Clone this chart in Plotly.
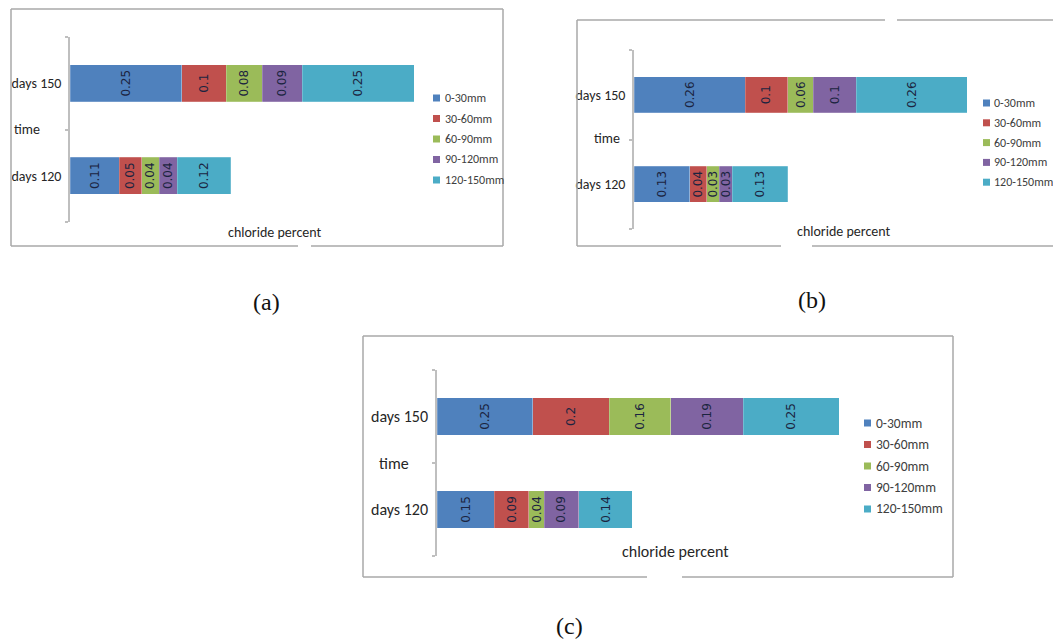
import plotly.graph_objects as go

# ---- data -------------------------------------------------------------
depths = ["0-30mm", "30-60mm", "60-90mm", "90-120mm", "120-150mm"]
times = ["days 150", "days 120"]

a_150 = [0.25, 0.10, 0.08, 0.09, 0.25]
a_120 = [0.11, 0.05, 0.04, 0.04, 0.12]

b_150 = [0.26, 0.10, 0.06, 0.10, 0.26]
b_120 = [0.13, 0.04, 0.03, 0.03, 0.13]

c_150 = [0.25, 0.20, 0.16, 0.19, 0.25]
c_120 = [0.15, 0.09, 0.04, 0.09, 0.14]

captions = ["(a)", "(b)", "(c)"]
colors = ["#4F81BD", "#C0504D", "#9BBB59", "#8064A2", "#4BACC6"]

# ---- page geometry (pixels) -------------------------------------------
W, H = 1053, 639


def X(px):
    return px / W


def Y(py):
    return 1 - py / H


UI_FONT = "Liberation Sans Narrow, Carlito, Lato, sans-serif"
LABEL_FONT = "DejaVu Sans, sans-serif"
CAP_FONT = "Liberation Serif, serif"
FRAME = "#A9A9A9"
AXIS = "#BFBFBF"
TXT = "#262626"

panels = [
    dict(v150=a_150, v120=a_120, x0=70, x1=425, ppu=447, y0=37, y1=222,
         frame=(11, 9, 503, 246), gaps_b=[(298, 311)], gaps_t=[],
         tick=14, title=(226, 232, 14), time=(12, 129),
         leg=(433, 443, 98, 20.5, 12), cap=(266, 302)),
    dict(v150=b_150, v120=b_120, x0=634, x1=975, ppu=427, y0=50, y1=229,
         frame=(577, 20, 1060, 246), gaps_b=[(781, 812)], gaps_t=[(885, 897)],
         tick=14, title=(795, 231, 14), time=(592, 138),
         leg=(983, 992, 103, 19.8, 12), cap=(812, 300)),
    dict(v150=c_150, v120=c_120, x0=437, x1=850, ppu=383, y0=370, y1=556,
         frame=(363, 336, 953, 577), gaps_b=[(647, 682)], gaps_t=[],
         tick=16, title=(620, 551, 16), time=(377, 463),
         leg=(864, 874, 423, 21.5, 13.5), cap=(569, 626)),
]

fig = go.Figure()
shapes, annotations = [], []

for i, p in enumerate(panels):
    k = "" if i == 0 else str(i + 1)
    xa, ya = "x" + k, "y" + k
    for j, name in enumerate(depths):
        vals = [p["v150"][j], p["v120"][j]]
        fig.add_trace(go.Bar(
            y=times, x=vals, name=name, orientation="h",
            xaxis=xa, yaxis=ya, width=0.4, showlegend=False,
            marker=dict(color=colors[j], line=dict(width=0.6, color="rgba(255,255,255,0.35)")),
            text=[f"{v:g}" for v in vals], textposition="inside",
            insidetextanchor="middle", textangle=-90,
            textfont=dict(family=LABEL_FONT, size=12, color="#1B2440"),
        ))

    span = (p["x1"] - p["x0"]) / p["ppu"]
    fig.layout["xaxis" + k] = dict(
        domain=[X(p["x0"]), X(p["x1"])], range=[0, span], anchor=ya,
        showticklabels=False, showgrid=False, zeroline=False, showline=False,
        fixedrange=True,
    )
    fig.layout["yaxis" + k] = dict(
        domain=[Y(p["y1"]), Y(p["y0"])], anchor=xa, type="category",
        categoryorder="array", categoryarray=list(reversed(times)),
        range=[-0.5, 1.5], showline=True, linecolor=AXIS, linewidth=1.5,
        ticks="outside", tickson="boundaries", ticklen=3, tickcolor=AXIS,
        tickwidth=1.5, ticklabelstandoff=4, showgrid=False, zeroline=False,
        tickfont=dict(family=UI_FONT, size=p["tick"], color=TXT),
    )

    # frame around each chart, with the small breaks in its border
    fx0, fy0, fx1, fy1 = p["frame"]

    def hline(y, xa0, xa1, gaps):
        segs, cur = [], xa0
        for g0, g1 in gaps:
            segs.append((cur, g0))
            cur = g1
        segs.append((cur, xa1))
        for s0, s1 in segs:
            shapes.append(dict(type="line", xref="paper", yref="paper",
                               x0=X(s0), x1=X(s1), y0=Y(y), y1=Y(y),
                               line=dict(color=FRAME, width=1.5)))

    hline(fy0, fx0, fx1, p["gaps_t"])
    hline(fy1, fx0, fx1, p["gaps_b"])
    for xx in (fx0, fx1):
        shapes.append(dict(type="line", xref="paper", yref="paper",
                           x0=X(xx), x1=X(xx), y0=Y(fy0), y1=Y(fy1),
                           line=dict(color=FRAME, width=1.5)))

    # axis captions
    tx, ty, ts = p["title"]
    annotations.append(dict(text="chloride percent", x=X(tx), y=Y(ty),
                            xref="paper", yref="paper", xanchor="left",
                            yanchor="middle", showarrow=False,
                            font=dict(family=UI_FONT, size=ts, color=TXT)))
    annotations.append(dict(text="time", x=X(p["time"][0]), y=Y(p["time"][1]),
                            xref="paper", yref="paper", xanchor="left",
                            yanchor="middle", showarrow=False,
                            font=dict(family=UI_FONT, size=p["tick"], color=TXT)))

    # legend: small coloured squares with depth names
    mx, lx, ly, dy, fs = p["leg"]
    for j, name in enumerate(depths):
        yy = ly + j * dy
        shapes.append(dict(type="rect", xref="paper", yref="paper",
                           x0=X(mx), x1=X(mx + 7), y0=Y(yy - 3.5), y1=Y(yy + 3.5),
                           fillcolor=colors[j], line=dict(width=0)))
        annotations.append(dict(text=name, x=X(lx), y=Y(yy), xref="paper",
                                yref="paper", xanchor="left", yanchor="middle",
                                showarrow=False,
                                font=dict(family=UI_FONT, size=fs, color="#404040")))

    # panel caption
    annotations.append(dict(text=captions[i], x=X(p["cap"][0]), y=Y(p["cap"][1]),
                            xref="paper", yref="paper", xanchor="center",
                            yanchor="middle", showarrow=False,
                            font=dict(family=CAP_FONT, size=24, color="#111111")))

fig.update_layout(
    width=W, height=H, margin=dict(l=0, r=0, t=0, b=0),
    paper_bgcolor="white", plot_bgcolor="white",
    barmode="stack", showlegend=False,
    uniformtext=dict(minsize=12, mode="show"),
    shapes=shapes, annotations=annotations,
)

fig.write_html("out.html", config={"displayModeBar": False})
